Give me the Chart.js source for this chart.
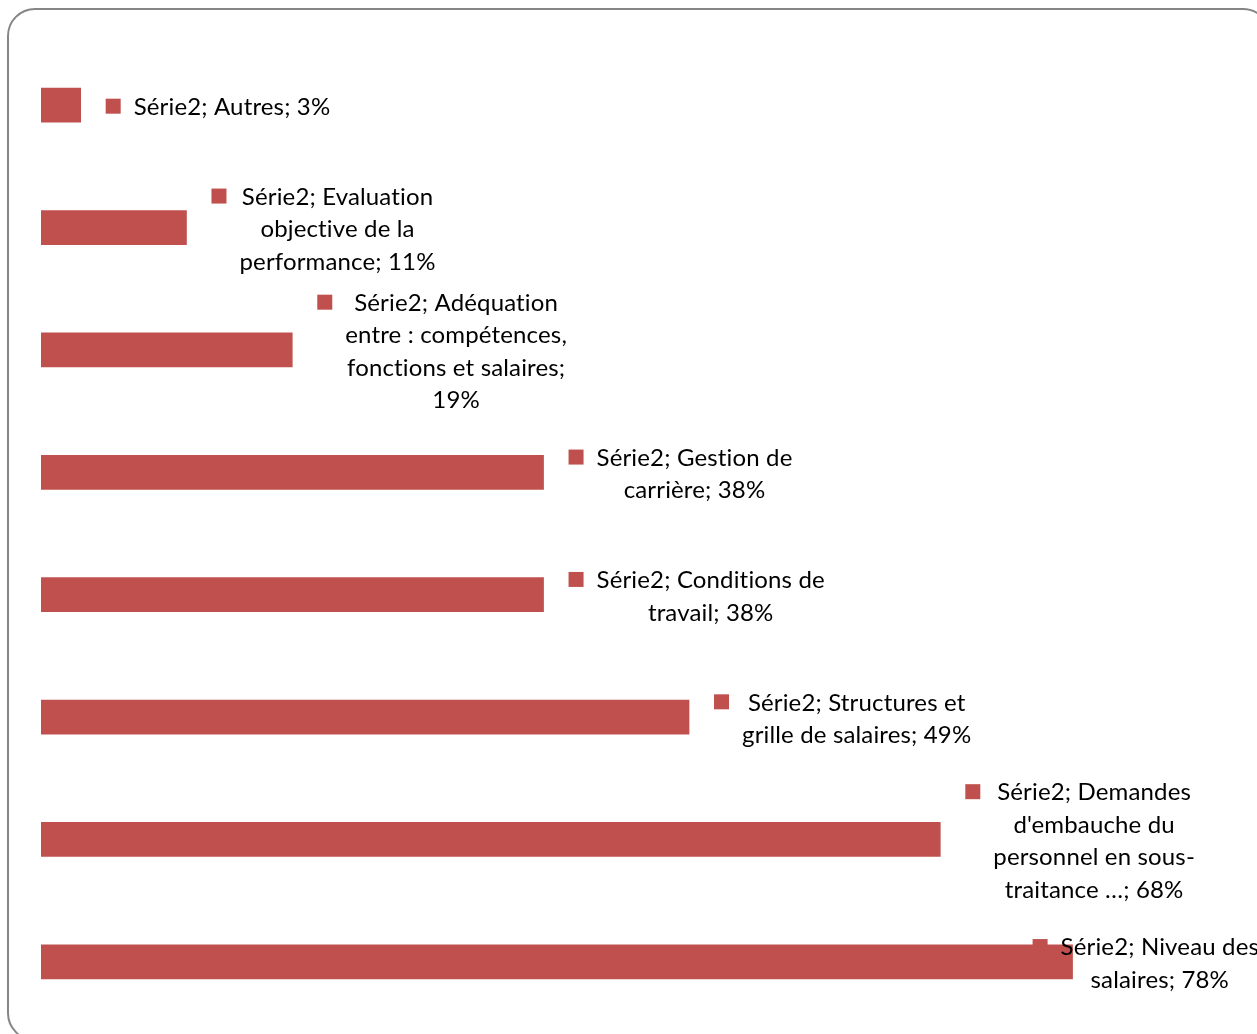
<!DOCTYPE html>
<html>
<head>
  <title>Série2</title>
  <script src="https://cdn.jsdelivr.net/npm/chart.js"></script>
  <style>
    html, body {
      margin: 0;
      padding: 0;
      background: #fff;
      overflow: hidden;
    }
  </style>
</head>
<body>
  <canvas id="barChart" width="1257" height="1034"></canvas>

  <script>
    // Data
    const seriesName = 'Série2';
    const categories = [
      'Autres',
      'Evaluation objective de la performance',
      'Adéquation entre : compétences, fonctions et salaires',
      'Gestion de carrière',
      'Conditions de travail',
      'Structures et grille de salaires',
      "Demandes d'embauche du personnel en sous-traitance …",
      'Niveau des salaires'
    ];
    const values = [3, 11, 19, 38, 38, 49, 68, 78];

    const barColor = '#C0504D';
    const labelFont = '24px Lato';
    const lineHeight = 32.5;
    const wrapWidth = 252;
    const labelLimit = 1259;

    // greedy wrap, breaking on spaces and after hyphens
    function wrapText(ctx, text, maxWidth) {
      const pieces = [];
      text.split(' ').forEach(word => {
        word.split(/(?<=-)/).forEach((p, i) => pieces.push({ text: p, space: i === 0 }));
      });
      const lines = [];
      let line = '';
      pieces.forEach(p => {
        const test = line === '' ? p.text : line + (p.space ? ' ' : '') + p.text;
        if (line !== '' && ctx.measureText(test).width > maxWidth) {
          lines.push(line);
          line = p.text;
        } else {
          line = test;
        }
      });
      if (line) lines.push(line);
      return lines;
    }

    // rounded frame around the chart
    const frame = {
      id: 'frame',
      beforeDraw(chart) {
        const ctx = chart.ctx;
        ctx.save();
        ctx.strokeStyle = '#868686';
        ctx.lineWidth = 2;
        ctx.beginPath();
        ctx.roundRect(8, 9, 1262, 1031, 27);
        ctx.stroke();
        ctx.restore();
      }
    };

    // "Série2; category; value%" labels with a legend key
    const barLabels = {
      id: 'barLabels',
      afterDatasetsDraw(chart) {
        const ctx = chart.ctx;
        const meta = chart.getDatasetMeta(0);
        ctx.save();
        ctx.font = labelFont;
        ctx.letterSpacing = '0.15px'; // also keeps "ti" from ligating
        ctx.textAlign = 'center';
        ctx.textBaseline = 'middle';
        meta.data.forEach((bar, i) => {
          const text = seriesName + '; ' + categories[i] + '; ' + values[i] + '%';
          const lines = wrapText(ctx, text, wrapWidth);
          const boxW = Math.max(...lines.map(l => ctx.measureText(l).width));
          let boxLeft = bar.x + 25 + 28;
          if (boxLeft + boxW > labelLimit) boxLeft = labelLimit - boxW;
          const markerX = boxLeft - 28;
          const top = bar.y - lines.length * lineHeight / 2 + 2;

          ctx.fillStyle = barColor;
          ctx.fillRect(markerX, top + lineHeight / 2 - 8.5, 15, 15);

          ctx.fillStyle = '#000';
          lines.forEach((l, j) => {
            ctx.fillText(l, boxLeft + boxW / 2, top + (j + 0.5) * lineHeight);
          });
        });
        ctx.restore();
      }
    };

    const ctx = document.getElementById('barChart').getContext('2d');
    new Chart(ctx, {
      type: 'bar',
      data: {
        labels: categories,
        datasets: [{
          label: seriesName,
          data: values,
          backgroundColor: barColor,
          barThickness: 34
        }]
      },
      options: {
        indexAxis: 'y',
        responsive: false,
        animation: false,
        layout: {
          padding: { left: 41, right: 158, top: 44, bottom: 11 }
        },
        plugins: {
          legend: { display: false },
          tooltip: { enabled: false }
        },
        scales: {
          x: { min: 0, max: 80, display: false },
          y: { display: false }
        }
      },
      plugins: [frame, barLabels]
    });
  </script>
</body>
</html>
